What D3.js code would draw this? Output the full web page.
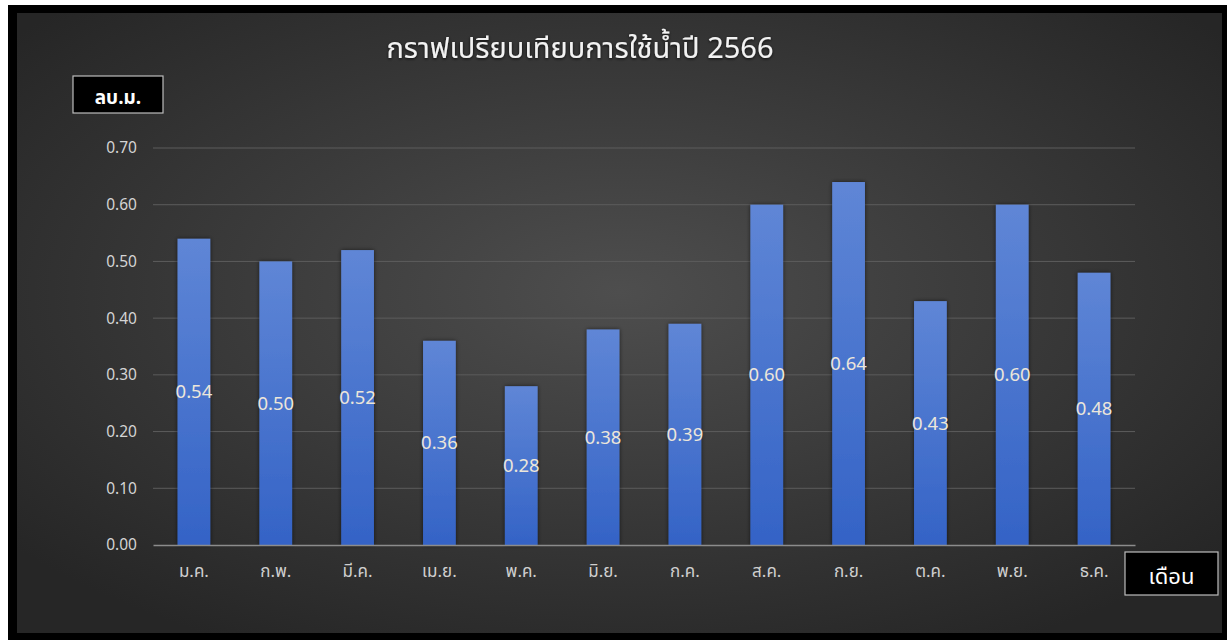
<!DOCTYPE html>
<html>
<head>
<meta charset="utf-8">
<script src="https://cdn.jsdelivr.net/npm/d3@7"></script>
<style>
    html, body { margin: 0; padding: 0; background: #ffffff; }
    svg { display: block; }
    text { font-family: "Noto Sans Thai", "Noto Sans", "Leelawadee UI", sans-serif; }
</style>
</head>
<body>
<div id="chart"></div>
<script>
(function() {
    // data
    var months = [ 'ม.ค.', 'ก.พ.', 'มี.ค.', 'เม.ย.', 'พ.ค.', 'มิ.ย.', 'ก.ค.', 'ส.ค.', 'ก.ย.', 'ต.ค.', 'พ.ย.', 'ธ.ค.' ];
    var usage = [ 0.54, 0.50, 0.52, 0.36, 0.28, 0.38, 0.39, 0.60, 0.64, 0.43, 0.60, 0.48 ];
    var yTicks = [ 0, 0.1, 0.2, 0.3, 0.4, 0.5, 0.6, 0.7 ];
    var title = 'กราฟเปรียบเทียบการใช้น้ำปี 2566',
        yTitle = 'ลบ.ม.',
        xTitle = 'เดือน';

    var W = 1227, H = 640;
    var margin = { left: 153, right: 92, top: 148, bottom: 95 };
    var width = W - margin.left - margin.right,
        height = H - margin.top - margin.bottom;

    var svg = d3.select('#chart')
        .append('svg')
            .attr('width', W)
            .attr('height', H);

    var defs = svg.append('defs');

    var bg = defs.append('radialGradient')
        .attr('id', 'bg')
        .attr('cx', '50%').attr('cy', '45%').attr('r', '65%');
    bg.append('stop').attr('offset', '0%').attr('stop-color', '#4e4e4e');
    bg.append('stop').attr('offset', '100%').attr('stop-color', '#262626');

    var barGrad = defs.append('linearGradient')
        .attr('id', 'bar')
        .attr('x1', 0).attr('y1', 0).attr('x2', 0).attr('y2', 1);
    barGrad.append('stop').attr('offset', '0%').attr('stop-color', '#5f86d6');
    barGrad.append('stop').attr('offset', '100%').attr('stop-color', '#3463c6');

    var glow = defs.append('filter').attr('id', 'glow')
        .attr('x', '-10%').attr('y', '-30%').attr('width', '120%').attr('height', '160%');
    glow.append('feDropShadow')
        .attr('dx', 0).attr('dy', 1).attr('stdDeviation', 1.5)
        .attr('flood-color', '#000').attr('flood-opacity', 0.8);

    var shadow = defs.append('filter').attr('id', 'shadow')
        .attr('x', '-30%').attr('y', '-5%').attr('width', '160%').attr('height', '110%');
    shadow.append('feDropShadow')
        .attr('dx', 0).attr('dy', 0).attr('stdDeviation', 2)
        .attr('flood-color', '#000').attr('flood-opacity', 0.6);

    // frame + background
    svg.append('rect')
        .attr('x', 8).attr('y', 5)
        .attr('width', W - 8).attr('height', H - 5)
        .attr('fill', '#000');
    svg.append('rect')
        .attr('x', 17).attr('y', 13)
        .attr('width', 1205).attr('height', 620)
        .attr('fill', 'url(#bg)');

    var g = svg.append('g')
        .attr('transform', 'translate(' + margin.left + ', ' + margin.top + ')');

    // scales
    var x = d3.scaleBand()
        .domain(months)
        .range([0, width])
        .paddingInner(0.6)
        .paddingOuter(0.3);

    var y = d3.scaleLinear()
        .domain([0, 0.7])
        .range([height, 0]);

    // grid
    g.selectAll('.grid')
        .data(yTicks.slice(1))
        .enter()
        .append('line')
            .attr('class', 'grid')
            .attr('x1', 0).attr('x2', width)
            .attr('y1', d => y(d)).attr('y2', d => y(d))
            .attr('stroke', '#5c5c5c')
            .attr('stroke-width', 1);

    // y axis
    var yAxisCall = d3.axisLeft(y)
        .tickValues(yTicks)
        .tickSize(0)
        .tickPadding(16)
        .tickFormat(d3.format('.2f'));
    var yAxisGroup = g.append('g').call(yAxisCall);
    yAxisGroup.select('.domain').remove();
    yAxisGroup.selectAll('text')
        .attr('fill', '#d4d4d4')
        .attr('font-size', '15.5px')
        .style('font-family', '"Noto Sans", sans-serif');

    // bars
    g.selectAll('.bar')
        .data(usage)
        .enter()
        .append('rect')
            .attr('class', 'bar')
            .attr('x', (d, i) => x(months[i]))
            .attr('y', d => y(d))
            .attr('width', x.bandwidth())
            .attr('height', d => height - y(d))
            .attr('fill', 'url(#bar)')
            .attr('filter', 'url(#shadow)');

    // x axis
    var xAxisCall = d3.axisBottom(x)
        .tickSize(0)
        .tickPadding(20);
    var xAxisGroup = g.append('g')
        .attr('transform', 'translate(0, ' + height + ')')
        .call(xAxisCall);
    xAxisGroup.select('.domain')
        .attr('stroke', '#8c8c8c')
        .attr('stroke-width', 1.5);
    xAxisGroup.selectAll('text')
        .attr('fill', '#cfcfcf')
        .attr('font-size', '17px');

    // value labels
    g.selectAll('.value')
        .data(usage)
        .enter()
        .append('text')
            .attr('class', 'value')
            .attr('x', (d, i) => x(months[i]) + x.bandwidth() / 2)
            .attr('y', d => y(d / 2))
            .attr('dy', '0.35em')
            .attr('text-anchor', 'middle')
            .attr('fill', '#ece6da')
            .attr('font-size', '18.5px')
            .style('font-family', '"Noto Sans", sans-serif')
            .text(d => d3.format('.2f')(d));

    // title
    svg.append('text')
        .attr('x', 580)
        .attr('y', 58)
        .attr('text-anchor', 'middle')
        .attr('fill', '#f2f2f2')
        .attr('font-size', '29px')
        .attr('filter', 'url(#glow)')
        .text(title);

    // axis title boxes
    var addBox = function(bx, by, bw, bh, label, size, weight) {
        svg.append('rect')
            .attr('x', bx).attr('y', by)
            .attr('width', bw).attr('height', bh)
            .attr('fill', '#000')
            .attr('stroke', '#bdbdbd')
            .attr('stroke-width', 1.2);
        svg.append('text')
            .attr('x', bx + bw / 2)
            .attr('y', by + bh / 2 + 3)
            .attr('dy', '0.35em')
            .attr('text-anchor', 'middle')
            .attr('fill', '#ffffff')
            .attr('font-size', size)
            .attr('font-weight', weight)
            .text(label);
    }

    addBox(73, 76, 90, 37, yTitle, '19px', 'bold');
    addBox(1125, 552, 93, 43, xTitle, '22px', 'normal');
}());
</script>
</body>
</html>
